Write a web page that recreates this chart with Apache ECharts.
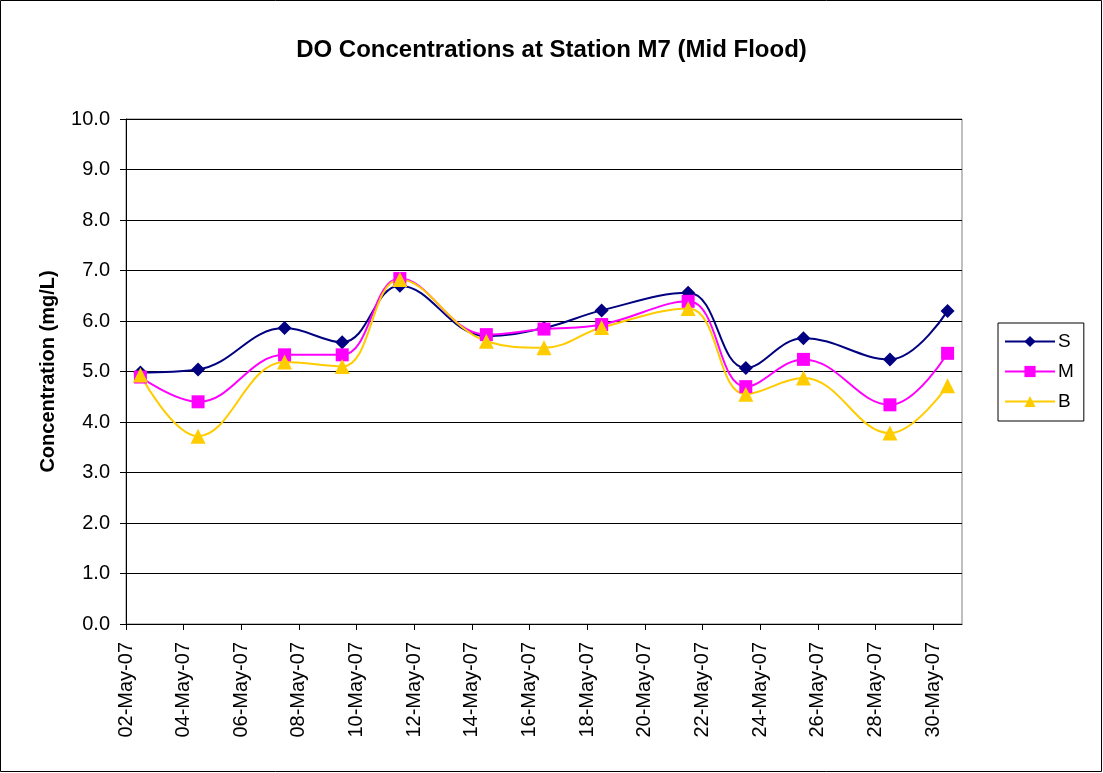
<!DOCTYPE html>
<html>
<head>
<meta charset="utf-8">
<script src="https://cdn.jsdelivr.net/npm/echarts@6/dist/echarts.min.js"></script>
<style>
  html, body { margin: 0; padding: 0; background: #fff; }
  #chart { width: 1103px; height: 773px; }
</style>
</head>
<body>
<div id="chart"></div>
<script>
// sampling times (mid-day)
var sampleTimes = ['2007-05-02T12:00Z', '2007-05-04T12:00Z', '2007-05-07T12:00Z', '2007-05-09T12:00Z',
  '2007-05-11T12:00Z', '2007-05-14T12:00Z', '2007-05-16T12:00Z', '2007-05-18T12:00Z',
  '2007-05-21T12:00Z', '2007-05-23T12:00Z', '2007-05-25T12:00Z', '2007-05-28T12:00Z', '2007-05-30T12:00Z'];
// DO (mg/L) surface, middle, bottom
var surface = [4.98, 5.04, 5.86, 5.58, 6.70, 5.70, 5.86, 6.21, 6.56, 5.07, 5.66, 5.24, 6.20];
var middle  = [4.89, 4.40, 5.33, 5.33, 6.84, 5.73, 5.84, 5.93, 6.39, 4.70, 5.24, 4.34, 5.36];
var bottom  = [4.93, 3.72, 5.19, 5.10, 6.82, 5.60, 5.47, 5.87, 6.25, 4.55, 4.87, 3.78, 4.72];
var yTicks = [0, 1, 2, 3, 4, 5, 6, 7, 8, 9, 10];
var xStart = '2007-05-02T00:00Z', xEnd = '2007-05-31T00:00Z';
var months = ['Jan','Feb','Mar','Apr','May','Jun','Jul','Aug','Sep','Oct','Nov','Dec'];
var DAY = 86400000;

function pairs(vals) {
  return vals.map(function (v, i) { return [Date.parse(sampleTimes[i]), v]; });
}
function fmtDate(ms) {
  var d = new Date(ms);
  if (d.getUTCDate() % 2 === 1) return '';
  var dd = ('0' + d.getUTCDate()).slice(-2);
  return dd + '-' + months[d.getUTCMonth()] + '-' + String(d.getUTCFullYear()).slice(-2);
}

var myChart = echarts.init(document.getElementById('chart'));
var font = 'Liberation Sans, Arial, sans-serif';
var option = {
  backgroundColor: '#fff',
  animation: false,
  textStyle: { fontFamily: font },
  title: {
    text: 'DO Concentrations at Station M7 (Mid Flood)',
    left: 'center', top: 33,
    textStyle: { fontFamily: font, fontSize: 24, fontWeight: 'bold', color: '#000' }
  },
  graphic: [{
    type: 'rect', silent: true,
    shape: { x: 0.5, y: 0.5, width: 1101, height: 771 },
    style: { fill: null, stroke: '#000', lineWidth: 1 }
  }],
  legend: {
    orient: 'vertical', left: 998, top: 323,
    data: ['S', 'M', 'B'],
    itemWidth: 50, itemHeight: 14, itemGap: 11,
    padding: [9, 10, 10, 6],
    borderColor: '#000', borderWidth: 1,
    textStyle: { fontFamily: font, fontSize: 19, color: '#000', padding: [0, 0, 0, -2] }
  },
  grid: {
    left: 126, top: 119, right: 141, bottom: 149,
    show: true, borderColor: '#808080', borderWidth: 1
  },
  xAxis: {
    type: 'value',
    min: Date.parse(xStart), max: Date.parse(xEnd),
    interval: 2 * DAY,
    axisLine: { lineStyle: { color: '#000', width: 1 } },
    axisTick: { show: true, length: 6, lineStyle: { color: '#000' } },
    splitLine: { show: false },
    axisLabel: {
      rotate: 90, margin: 18, fontSize: 20, color: '#000', fontFamily: font,
      showMaxLabel: false,
      formatter: fmtDate
    }
  },
  yAxis: {
    type: 'value', min: yTicks[0], max: yTicks[yTicks.length - 1], interval: 1,
    name: 'Concentration (mg/L)', nameLocation: 'middle', nameGap: 68,
    nameTextStyle: { fontFamily: font, fontSize: 20, fontWeight: 'bold', color: '#000' },
    axisLine: { show: true, lineStyle: { color: '#000', width: 1 } },
    axisTick: { show: true, length: 6, lineStyle: { color: '#000' } },
    splitLine: { lineStyle: { color: '#000', width: 1 } },
    axisLabel: {
      fontSize: 20, color: '#000', margin: 16, fontFamily: font,
      formatter: function (v) { return v.toFixed(1); }
    }
  },
  series: [
    {
      name: 'S', type: 'line', smooth: 0.4, data: pairs(surface),
      symbol: 'diamond', symbolSize: 14,
      itemStyle: { color: '#000080' }, lineStyle: { color: '#000080', width: 2 }
    },
    {
      name: 'M', type: 'line', smooth: 0.4, data: pairs(middle),
      symbol: 'rect', symbolSize: 13,
      itemStyle: { color: '#FF00FF' }, lineStyle: { color: '#FF00FF', width: 2 }
    },
    {
      name: 'B', type: 'line', smooth: 0.4, data: pairs(bottom),
      symbol: 'triangle', symbolSize: 15,
      itemStyle: { color: '#FFCC00' }, lineStyle: { color: '#FFCC00', width: 2 }
    }
  ]
};
myChart.setOption(option);
window.onresize = myChart.resize;
</script>
</body>
</html>
